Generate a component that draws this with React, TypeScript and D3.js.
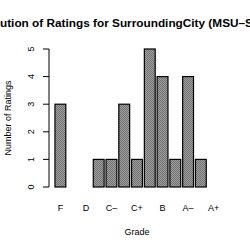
import React, { useEffect, useRef } from "react";
import * as d3 from "d3";

const grades = ["F", "D–", "D", "D+", "C–", "C", "C+", "B–", "B", "B+", "A–", "A", "A+"];
const counts = [3, 0, 0, 1, 1, 3, 1, 5, 4, 1, 4, 1, 0];
const shownLabels = ["F", "D", "C–", "C+", "B", "A–", "A+"];
const yTicks = [0, 1, 2, 3, 4, 5];
const title = "Distribution of Ratings for SurroundingCity (MSU–Springfield)";

const App = () => {
  const svgRef = useRef<SVGSVGElement>(null);

  useEffect(() => {
    const width = 250;
    const height = 250;
    const font = "'Liberation Sans', Arial, sans-serif";

    const svg = d3.select(svgRef.current).attr("width", width).attr("height", height);
    svg.selectAll("*").remove();

    // dithered gray fill like the old R png device
    const defs = svg.append("defs");
    const pat = defs
      .append("pattern")
      .attr("id", "dither")
      .attr("width", 2)
      .attr("height", 2)
      .attr("patternUnits", "userSpaceOnUse");
    pat.append("rect").attr("width", 2).attr("height", 2).attr("fill", "#a0a0a0");
    pat.append("rect").attr("width", 1).attr("height", 1).attr("fill", "#707070");
    pat.append("rect").attr("x", 1).attr("y", 1).attr("width", 1).attr("height", 1).attr("fill", "#707070");

    const x = d3
      .scaleBand()
      .domain(grades)
      .range([54, 220])
      .paddingInner(0.15)
      .paddingOuter(0.075);

    const y = d3.scaleLinear().domain([0, 5]).range([187, 49]);

    // bars
    svg
      .append("g")
      .selectAll("rect")
      .data(counts)
      .join("rect")
      .attr("x", (d, i) => x(grades[i])!)
      .attr("y", (d) => y(d))
      .attr("width", x.bandwidth())
      .attr("height", (d) => y(0) - y(d))
      .attr("fill", "url(#dither)")
      .attr("stroke", "#000")
      .attr("stroke-width", 1.2);

    // y axis
    const yAxis = svg.append("g").attr("transform", "translate(49,0)");
    yAxis
      .append("line")
      .attr("y1", y(0))
      .attr("y2", y(5))
      .attr("stroke", "#000");
    yAxis
      .selectAll("line.tick")
      .data(yTicks)
      .join("line")
      .attr("class", "tick")
      .attr("x1", -6)
      .attr("x2", 0)
      .attr("y1", (d) => y(d))
      .attr("y2", (d) => y(d))
      .attr("stroke", "#000");
    yAxis
      .selectAll("text")
      .data(yTicks)
      .join("text")
      .attr("transform", (d) => `translate(-15, ${y(d)}) rotate(-90)`)
      .attr("text-anchor", "middle")
      .attr("fill", "#000")
      .style("font-family", font)
      .style("font-size", "9px")
      .text((d) => d);

    // x labels (every other grade)
    svg
      .append("g")
      .selectAll("text")
      .data(shownLabels)
      .join("text")
      .attr("x", (d) => x(d)! + x.bandwidth() / 2)
      .attr("y", 211)
      .attr("text-anchor", "middle")
      .attr("fill", "#000")
      .style("font-family", font)
      .style("font-size", "9px")
      .text((d) => d);

    // axis titles
    svg
      .append("text")
      .attr("x", 137)
      .attr("y", 235)
      .attr("text-anchor", "middle")
      .attr("fill", "#000")
      .style("font-family", font)
      .style("font-size", "9px")
      .text("Grade");

    svg
      .append("text")
      .attr("transform", `translate(11, ${(y(0) + y(5)) / 2}) rotate(-90)`)
      .attr("text-anchor", "middle")
      .attr("fill", "#000")
      .style("font-family", font)
      .style("font-size", "9px")
      .text("Number of Ratings");

    // main title: wider than the image, so "Distrib" falls off the left edge
    const probe = svg
      .append("text")
      .style("font-family", font)
      .style("font-size", "11.8px")
      .style("font-weight", "bold")
      .text("Distrib");
    const cut = (probe.node() as SVGTextElement).getComputedTextLength();
    probe.remove();

    svg
      .append("text")
      .attr("x", -cut)
      .attr("y", 27)
      .attr("fill", "#000")
      .style("font-family", font)
      .style("font-size", "11.8px")
      .style("font-weight", "bold")
      .text(title);
  }, []);

  return (
    <div>
      <svg ref={svgRef} style={{ position: "absolute", left: 0, top: 0, background: "#fff" }}></svg>
    </div>
  );
};
export default App;
